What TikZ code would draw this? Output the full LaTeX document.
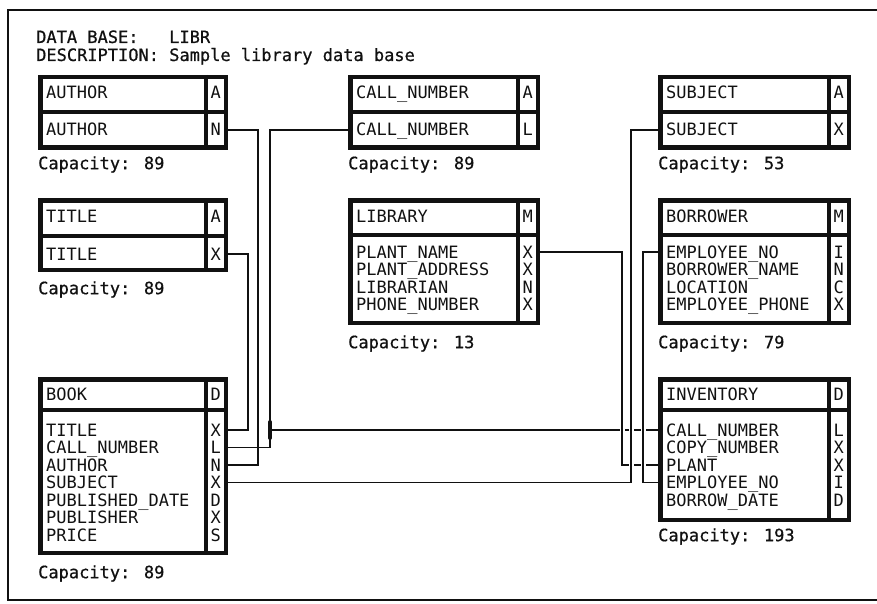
\documentclass[tikz,border=0pt]{standalone}
\usepackage{fontspec}
\usepackage{tikz}
\usetikzlibrary{positioning}
\newfontfamily\plotfont{DejaVu Sans Mono}
\newfontfamily\plotheavy[FakeBold=0.7]{DejaVu Sans Mono}
\definecolor{PlotInk}{HTML}{111111}
\tikzset{
  every node/.style={font=\plotfont\fontsize{17}{18}\selectfont,text=PlotInk,
    inner sep=0pt,text height=12pt,text depth=0pt},
  tablebox/.style={draw=PlotInk,line width=4.5pt},
  rule/.style={draw=PlotInk,line width=4.5pt},
  field/.style={anchor=west,xshift=8pt},
  flag/.style={xshift=-12.25pt},
  captext/.style={font=\plotheavy\fontsize{17}{18}\selectfont},
  link/.style={draw=PlotInk,line width=1.4pt},
  hop/.style={link,preaction={draw=white,line width=5pt}},
  frame/.style={draw=PlotInk,line width=2pt}
}
\begin{document}
\begin{tikzpicture}[x=1pt,y=-1pt]
  \useasboundingbox (0,0) rectangle (877,604);
  \draw[frame] (877,10) -- (8,10) -- (8,600) -- (877,600);

  \node[anchor=west,captext] (dbname) at (36,37) {DATA BASE:\ \ \ LIBR};
  \node[anchor=west,captext] (dbdesc) at (36,55) {DESCRIPTION: Sample library data base};

  % index tables
  \node[tablebox,minimum width=185.5pt,minimum height=70.5pt] (author) at (133,112.5) {};
  \draw[rule] (author.west |- 0,112) -- (author.east |- 0,112);
  \draw[rule] ([xshift=-22.25pt]author.north east) -- ([xshift=-22.25pt]author.south east);
  \node[field] (author-h) at (author.west |- 0,93) {AUTHOR};
  \node[flag] at (author.east |- author-h) {A};
  \node[field] (author-r) at (author.west |- 0,130) {AUTHOR};
  \node[flag] at (author.east |- author-r) {N};
  \node[captext,below right=7pt and 0pt of author.south west] {Capacity: 89};

  \node[tablebox,minimum width=185.5pt,minimum height=69.5pt] (title) at (133,235) {};
  \draw[rule] (title.west |- 0,236) -- (title.east |- 0,236);
  \draw[rule] ([xshift=-22.25pt]title.north east) -- ([xshift=-22.25pt]title.south east);
  \node[field] (title-h) at (title.west |- 0,216) {TITLE};
  \node[flag] at (title.east |- title-h) {A};
  \node[field] (title-r) at (title.west |- 0,254) {TITLE};
  \node[flag] at (title.east |- title-r) {X};
  \node[captext,below right=10pt and 0pt of title.south west] {Capacity: 89};

  \node[tablebox,minimum width=187.5pt,minimum height=70.5pt] (callnum) at (444,112.5) {};
  \draw[rule] (callnum.west |- 0,112) -- (callnum.east |- 0,112);
  \draw[rule] ([xshift=-22.25pt]callnum.north east) -- ([xshift=-22.25pt]callnum.south east);
  \node[field] (callnum-h) at (callnum.west |- 0,93) {CALL\_NUMBER};
  \node[flag] at (callnum.east |- callnum-h) {A};
  \node[field] (callnum-r) at (callnum.west |- 0,130) {CALL\_NUMBER};
  \node[flag] at (callnum.east |- callnum-r) {L};
  \node[captext,below right=7pt and 0pt of callnum.south west] {Capacity: 89};

  \node[tablebox,minimum width=188.5pt,minimum height=70.5pt] (subject) at (754.5,112.5) {};
  \draw[rule] (subject.west |- 0,112) -- (subject.east |- 0,112);
  \draw[rule] ([xshift=-22.25pt]subject.north east) -- ([xshift=-22.25pt]subject.south east);
  \node[field] (subject-h) at (subject.west |- 0,93) {SUBJECT};
  \node[flag] at (subject.east |- subject-h) {A};
  \node[field] (subject-r) at (subject.west |- 0,130) {SUBJECT};
  \node[flag] at (subject.east |- subject-r) {X};
  \node[captext,below right=7pt and 0pt of subject.south west] {Capacity: 53};

  % record tables
  \node[tablebox,minimum width=187.5pt,minimum height=122.5pt] (library) at (444,261.5) {};
  \draw[rule] (library.west |- 0,235) -- (library.east |- 0,235);
  \draw[rule] ([xshift=-22.25pt]library.north east) -- ([xshift=-22.25pt]library.south east);
  \node[field] (library-h) at (library.west |- 0,216) {LIBRARY};
  \node[flag] at (library.east |- library-h) {M};
  \foreach \f/\k [count=\i] in {PLANT\_NAME/X,PLANT\_ADDRESS/X,LIBRARIAN/N,PHONE\_NUMBER/X}{
    \node[field] (library-\i) at (library.west |- 0,234.5+17.5*\i) {\f};
    \node[flag] at (library.east |- library-\i) {\k};
  }
  \node[captext,below right=11pt and 0pt of library.south west] {Capacity: 13};

  \node[tablebox,minimum width=188.5pt,minimum height=122.5pt] (borrower) at (754.5,261.5) {};
  \draw[rule] (borrower.west |- 0,235) -- (borrower.east |- 0,235);
  \draw[rule] ([xshift=-22.25pt]borrower.north east) -- ([xshift=-22.25pt]borrower.south east);
  \node[field] (borrower-h) at (borrower.west |- 0,216) {BORROWER};
  \node[flag] at (borrower.east |- borrower-h) {M};
  \foreach \f/\k [count=\i] in {EMPLOYEE\_NO/I,BORROWER\_NAME/N,LOCATION/C,EMPLOYEE\_PHONE/X}{
    \node[field] (borrower-\i) at (borrower.west |- 0,234.5+17.5*\i) {\f};
    \node[flag] at (borrower.east |- borrower-\i) {\k};
  }
  \node[captext,below right=11pt and 0pt of borrower.south west] {Capacity: 79};

  \node[tablebox,minimum width=185.5pt,minimum height=173.5pt] (book) at (133,466) {};
  \draw[rule] (book.west |- 0,410) -- (book.east |- 0,410);
  \draw[rule] ([xshift=-22.25pt]book.north east) -- ([xshift=-22.25pt]book.south east);
  \node[field] (book-h) at (book.west |- 0,394) {BOOK};
  \node[flag] at (book.east |- book-h) {D};
  \foreach \f/\k [count=\i] in {TITLE/X,CALL\_NUMBER/L,AUTHOR/N,SUBJECT/X,PUBLISHED\_DATE/D,PUBLISHER/X,PRICE/S}{
    \node[field] (book-\i) at (book.west |- 0,412.5+17.5*\i) {\f};
    \node[flag] at (book.east |- book-\i) {\k};
  }
  \node[captext,below right=11pt and 0pt of book.south west] {Capacity: 89};

  \node[tablebox,minimum width=188.5pt,minimum height=140.5pt] (inventory) at (754.5,449.5) {};
  \draw[rule] (inventory.west |- 0,410) -- (inventory.east |- 0,410);
  \draw[rule] ([xshift=-22.25pt]inventory.north east) -- ([xshift=-22.25pt]inventory.south east);
  \node[field] (inventory-h) at (inventory.west |- 0,394) {INVENTORY};
  \node[flag] at (inventory.east |- inventory-h) {D};
  \foreach \f/\k [count=\i] in {CALL\_NUMBER/L,COPY\_NUMBER/X,PLANT/X,EMPLOYEE\_NO/I,BORROW\_DATE/D}{
    \node[field] (inventory-\i) at (inventory.west |- 0,412.5+17.5*\i) {\f};
    \node[flag] at (inventory.east |- inventory-\i) {\k};
  }
  \node[captext,below right=7pt and 0pt of inventory.south west] {Capacity: 193};

  % links
  \draw[link] (author.east |- author-r) -- ++(30,0) |- (book.east |- book-3);
  \draw[link] (title.east |- title-r) -- ++(20,0) |- (book.east |- book-1);
  \draw[link] (callnum.west |- callnum-r) -- ++(-78,0) coordinate (callbus) |- (book.east |- book-2);
  \coordinate (fork) at (callbus |- inventory-1);
  \draw[link] (fork) -- (inventory.west |- inventory-1);
  \draw[line width=4pt,line cap=round,PlotInk] ([yshift=8pt]fork) -- ([yshift=-8pt]fork);
  \draw[hop] (library.east |- library-1) -- ++(82,0) |- (inventory.west |- inventory-3);
  \draw[hop] (subject.west |- subject-r) -- ++(-27,0) |- (book.east |- book-4);
  \draw[hop] (borrower.west |- borrower-1) -- ++(-15,0) |- (inventory.west |- inventory-4);
\end{tikzpicture}
\end{document}
